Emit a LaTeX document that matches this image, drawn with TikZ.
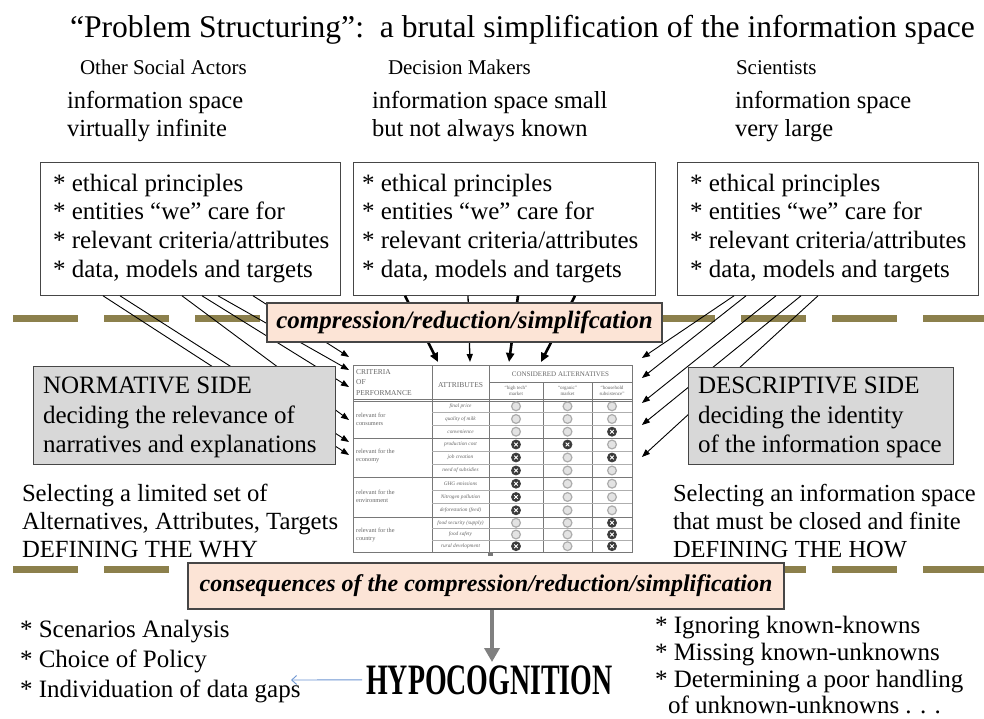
\documentclass[tikz,border=0pt]{standalone}
\usepackage{fontspec}
\setmainfont{Liberation Serif}
\usetikzlibrary{arrows.meta,calc}
\definecolor{olivedash}{RGB}{140,128,76}
\definecolor{peach}{RGB}{252,228,214}
\definecolor{sidegray}{RGB}{216,216,216}
\definecolor{edgegray}{RGB}{70,70,70}
\definecolor{tabgray}{RGB}{120,120,120}
\definecolor{arrowgray}{RGB}{128,128,128}
\definecolor{thinblue}{RGB}{110,150,210}
\newcommand{\fs}[1]{\fontsize{#1}{#1}\selectfont}
\newcommand{\ratecell}[3]{%
  \ifnum#3=1
    \draw[fill=gray!45!black, draw=black!75, line width=1pt] (#1,#2) circle (4.4pt);
    \draw[white, line width=0.8pt] (#1-1.8,#2-1.8) -- (#1+1.8,#2+1.8) (#1-1.8,#2+1.8) -- (#1+1.8,#2-1.8);
  \else
    \draw[fill=gray!22, draw=gray!65, line width=1.2pt] (#1,#2) circle (4.4pt);
  \fi}
\begin{document}
\begin{tikzpicture}[x=1pt,y=-1pt,
  txt/.style={inner sep=0pt, outer sep=0pt, anchor=base west, font=\fs{25}},
  hdr/.style={txt, font=\fs{21}},
  info/.style={txt, font=\fs{24.5}},
  infobox/.style={draw=edgegray, line width=1.3pt, fill=white, inner sep=0pt, anchor=north west},
  sidebox/.style={draw=edgegray, line width=1.3pt, fill=sidegray, inner sep=0pt, anchor=north west},
  labelbox/.style={draw=edgegray, line width=1.6pt, fill=peach, inner sep=0pt},
  dashline/.style={draw=olivedash, line width=7pt, dash pattern=on 65pt off 26pt},
  sidearrow/.style={draw=black, line width=0.9pt, -{Triangle[length=8pt,width=6pt]}},
  boldarrow/.style={draw=black, line width=2.6pt, -{Triangle[length=9pt,width=8pt]}},
  midarrow/.style={draw=black, line width=1.3pt, -{Triangle[length=8pt,width=6pt]}},
  tabline/.style={draw=tabgray, line width=0.9pt},
  subline/.style={draw=tabgray!60, line width=0.5pt},
  tabtxt/.style={inner sep=0pt, text=tabgray!85!black, font=\fs{7.5}},
  crittxt/.style={inner sep=0pt, text=tabgray!85!black, font=\fontsize{6.3}{8}\selectfont, align=left, anchor=west},
  attrtxt/.style={inner sep=0pt, text=tabgray!85!black, font=\fs{5.3}\itshape},
  subhd/.style={inner sep=0pt, text=tabgray!85!black, font=\fontsize{5}{6}\selectfont, align=center}
]
\useasboundingbox (0,0) rectangle (984,719);
\fill[white] (0,0) rectangle (984,719);

% ---------- title and headers ----------
\node[txt, font=\fs{31.6}] (title) at (70,38) {“Problem Structuring”:\ \ a brutal simplification of the information space};
\node[hdr] (hOSA) at (80,75) {Other Social Actors};
\node[hdr] (hDM) at (388,75) {Decision Makers};
\node[hdr] (hSC) at (736,75) {Scientists};

\node[info] (i1a) at (67,109) {information space};
\node[info] (i1b) at (67,137) {virtually infinite};
\node[info] (i2a) at (372,109) {information space small};
\node[info] (i2b) at (372,137) {but not always known};
\node[info] (i3a) at (735,109) {information space};
\node[info] (i3b) at (735,137) {very large};

% ---------- the three boxes ----------
\node[infobox, minimum width=300pt, minimum height=132.5pt] (b1) at (40,162) {};
\node[infobox, minimum width=302pt, minimum height=132.5pt] (b2) at (353,162) {};
\node[infobox, minimum width=301pt, minimum height=132.5pt] (b3) at (677,162) {};
\foreach \bx/\px in {b1/53, b2/362, b3/690}{
  \node[txt] (\bx l1) at (\px,192) {* ethical principles};
  \node[txt] (\bx l2) at (\px,220) {* entities “we” care for};
  \node[txt] (\bx l3) at (\px,248) {* relevant criteria/attributes};
  \node[txt] (\bx l4) at (\px,277) {* data, models and targets};
}

% ---------- dashed separators ----------
\coordinate (d1a) at (13,318); \coordinate (d1b) at (984,318);
\coordinate (d2a) at (13,569); \coordinate (d2b) at (984,569);
\draw[dashline] (d1a) -- (d1b);
\draw[dashline] (d2a) -- (d2b);

% ---------- table ----------
\node[draw=tabgray, line width=0.9pt, fill=white, inner sep=0pt, anchor=north west,
      minimum width=279pt, minimum height=187pt] (tab) at (353,365) {};
\draw[tabline] (432,365) -- (432,552) (489,365) -- (489,552);
\draw[tabline] (543,382) -- (543,552) (592,382) -- (592,552);
\draw[tabline] (489,382) -- (632,382);
\draw[tabline, line width=0.8pt] (353,399) -- (632,399) (353,401.5) -- (632,401.5);
\draw[tabline] (353,438) -- (632,438) (353,477) -- (632,477) (353,517) -- (632,517);
\foreach \yy in {412.7,425.3,451,464,490.3,503.7,528.7,540.3}
  \draw[subline] (432,\yy) -- (632,\yy);

\node[tabtxt, anchor=base west] (th1) at (356,374) {CRITERIA};
\node[tabtxt, anchor=base west] (th2) at (356,384) {OF};
\node[tabtxt, anchor=base west] (th3) at (356,395) {PERFORMANCE};
\node[tabtxt] (th4) at (460.5,385) {ATTRIBUTES};
\node[tabtxt, font=\fs{7}] (th5) at (560.5,374) {CONSIDERED ALTERNATIVES};
\node[subhd] (sh1) at (516,391) {“high tech”\\market};
\node[subhd] (sh2) at (567.5,391) {“organic”\\market};
\node[subhd] (sh3) at (612,391) {“household\\subsistence”};

\node[crittxt] (cr1) at (356,419) {relevant for\\consumers};
\node[crittxt] (cr2) at (356,456) {relevant for the\\economy};
\node[crittxt] (cr3) at (356,496) {relevant for the\\environment};
\node[crittxt] (cr4) at (356,535) {relevant for the\\country};

\foreach \yy/\lab [count=\k] in {406.3/final price, 419/quality of milk, 431.7/convenience,
   444.5/production cost, 457.5/job creation, 470.5/need of subsidies,
   483.7/GHG emissions, 497/Nitrogen pollution, 510.3/deforestation (feed),
   522.8/food security (supply), 534.5/food safety, 546.2/rural development}
  \node[attrtxt] (at\k) at (460.5,\yy) {\lab};

\foreach \yy/\a/\b/\c in {406.3/0/0/0, 419/0/0/0, 431.7/0/0/1, 444.5/1/1/0, 457.5/1/0/1,
   470.5/1/0/0, 483.7/1/0/0, 497/1/0/0, 510.3/1/0/0, 522.8/0/0/1, 534.5/0/0/1, 546.2/1/0/1}{
  \ratecell{516}{\yy}{\a}
  \ratecell{567.5}{\yy}{\b}
  \ratecell{612}{\yy}{\c}
}
\fill[tabgray] (488,552) rectangle (493,556);

% ---------- arrows from the boxes to the table ----------
\draw[sidearrow] ($(b1.south west)+(213,0)$) -- ($(tab.north west)+(-4,-8)$);
\draw[sidearrow] ($(b1.south west)+(178,0)$) -- ($(tab.north west)+(-4,5)$);
\draw[sidearrow] ($(b1.south west)+(162,0)$) -- ($(tab.north west)+(-4,22)$);
\draw[sidearrow] ($(b1.south west)+(142,0)$) -- ($(tab.north west)+(-4,55)$);
\draw[sidearrow] ($(b1.south west)+(80,0)$) -- ($(tab.north west)+(-4,77)$);
\draw[sidearrow] ($(b1.south west)+(63,0)$) -- ($(tab.north west)+(-4,90)$);

\draw[boldarrow] ($(b2.south west)+(52,0)$) -- ($(tab.north west)+(85,-3)$);
\draw[midarrow]  ($(b2.south west)+(115,0)$) -- ($(tab.north west)+(117,-3)$);
\draw[boldarrow] ($(b2.south west)+(165,0)$) -- ($(tab.north west)+(156,-3)$);
\draw[boldarrow] ($(b2.south west)+(222,0)$) -- ($(tab.north west)+(188,-3)$);

\draw[sidearrow] ($(b3.south west)+(57,0)$) -- ($(tab.north east)+(9,-7)$);
\draw[sidearrow] ($(b3.south west)+(69,0)$) -- ($(tab.north east)+(9,13)$);
\draw[sidearrow] ($(b3.south west)+(99,0)$) -- ($(tab.north east)+(9,38)$);
\draw[sidearrow] ($(b3.south west)+(124,0)$) -- ($(tab.north east)+(9,60)$);
\draw[sidearrow] ($(b3.south west)+(141,0)$) -- ($(tab.north east)+(9,92)$);

% ---------- label boxes over the arrows ----------
\node[labelbox, minimum width=395pt, minimum height=39pt, font=\fs{25}\bfseries\itshape] (comp) at (464.5,322.5) {compression/reduction/simplifcation};

\node[sidebox, minimum width=302pt, minimum height=98pt] (norm) at (33,366) {};
\node[txt] (n1) at (43,393) {NORMATIVE SIDE};
\node[txt] (n2) at (43,423) {deciding the relevance of};
\node[txt] (n3) at (43,452) {narratives and explanations};

\node[sidebox, minimum width=265pt, minimum height=97pt] (desc) at (688,367) {};
\node[txt] (e1) at (698,393) {DESCRIPTIVE SIDE};
\node[txt] (e2) at (698,423) {deciding the identity};
\node[txt] (e3) at (698,452) {of the information space};

% ---------- side texts ----------
\node[txt, font=\fs{24.7}] (s1) at (22,501) {Selecting a limited set of};
\node[txt, font=\fs{24.7}] (s2) at (22,529) {Alternatives, Attributes, Targets};
\node[txt, font=\fs{24.7}] (s3) at (22,557) {DEFINING THE WHY};
\node[txt, font=\fs{24.5}] (r1) at (673,501) {Selecting an information space};
\node[txt, font=\fs{24.5}] (r2) at (673,529) {that must be closed and finite};
\node[txt, font=\fs{24.5}] (r3) at (673,557) {DEFINING THE HOW};

% ---------- consequences ----------
\node[labelbox, minimum width=596pt, minimum height=46pt, font=\fs{24}\bfseries\itshape] (cons) at (486,586) {consequences of the compression/reduction/simplification};

\node[inner sep=0pt, anchor=base west, font=\fs{31}\bfseries] (hyp) at (366,694) {\scalebox{0.9}[1.4]{HYPOCOGNITION}};
\coordinate (gtip) at (492,662);
\draw[draw=arrowgray, line width=4pt, -{Triangle[length=14pt,width=15pt]}] ($(cons.south)+(6,0)$) -- (gtip);
\coordinate (btip) at (291,680);
\draw[draw=thinblue, line width=0.9pt, -{Straight Barb[length=5pt,width=9pt]}] ($(hyp.west)+(-4,0)$) -- (btip);

\node[txt] (l1) at (20,637) {* Scenarios Analysis};
\node[txt] (l2) at (20,667) {* Choice of Policy};
\node[txt] (l3) at (20,697) {* Individuation of data gaps};

\node[txt, font=\fs{25}] (q1) at (655,633) {* Ignoring known-knowns};
\node[txt, font=\fs{25}] (q2) at (655,660) {* Missing known-unknowns};
\node[txt, font=\fs{25}] (q3) at (655,687) {* Determining a poor handling};
\node[txt, font=\fs{25}] (q4) at (668,713) {of unknown-unknowns . . .};
\end{tikzpicture}
\end{document}
